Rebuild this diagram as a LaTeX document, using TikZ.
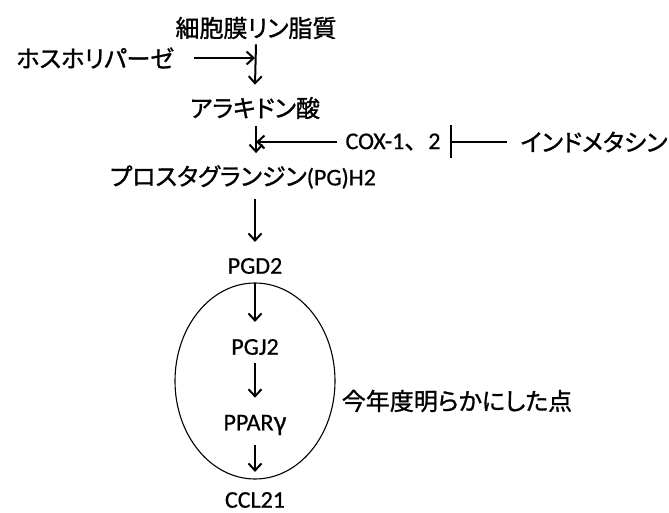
\documentclass[tikz,border=0pt]{standalone}
\usepackage{fontspec}
\setmainfont[FakeBold=0.6]{Carlito}
\newfontfamily\jp[RawFeature=+palt,FakeBold=1.2]{Noto Sans CJK JP}
\newfontfamily\jpf[FakeBold=1.2]{Noto Sans CJK JP}
\usetikzlibrary{arrows.meta}
\tikzset{
  lbl/.style={inner sep=0pt, font=\fontsize{24}{28}\selectfont},
  arr/.style={line width=2pt, -{Straight Barb[length=7pt,width=13pt,line width=2pt]}},
  plain/.style={line width=2pt},
}
\begin{document}
\begin{tikzpicture}[x=1pt,y=-1pt]
\useasboundingbox (0,0) rectangle (669,513);
\node[lbl] (mem)  at (256,28)  {\jp 細胞膜リン脂質};
\node[lbl] (hosu) at (95,58)   {\jp ホスホリパーゼ};
\node[lbl] (ara)  at (255,108) {\jp アラキドン酸};
\node[lbl] (cox)  at (393,142) {COX-1{\jpf 、}2};
\node[lbl] (indo) at (594,142) {\jp インドメタシン};
\node[lbl] (pgh)  at (243,177) {{\jp プロスタグランジン}(PG)H2};
\node[lbl] (pgd)  at (255,266) {PGD2};
\node[lbl] (pgj)  at (255,347) {PGJ2};
\node[lbl] (ppar) at (255,425) {PPAR{\jp γ}};
\node[lbl] (ccl)  at (255,500) {CCL21};
\node[lbl] (note) at (457,401) {\jp 今年度明らかにした点};
\draw[line width=1.1pt] (255,381) ellipse [x radius=80, y radius=98];
% main chain
\draw[arr] ([yshift=-5pt]mem.south) -- ([yshift=12pt]ara.north);
\draw[arr] ([yshift=-7pt]ara.south -| mem) -- ([yshift=12pt]pgh.north -| mem);
\draw[arr] ([yshift=-10pt]pgh.south -| pgd) -- ([yshift=16pt]pgd.north);
\draw[arr] ([yshift=-9pt]pgd.south) -- ([yshift=17pt]pgj.north);
\draw[arr] ([yshift=-8pt]pgj.south) -- ([yshift=17pt]ppar.north);
\draw[arr] ([yshift=-10pt]ppar.south) -- ([yshift=20pt]ccl.north);
% side arrows
\draw[arr] ([xshift=20pt]hosu.east) -- ([xshift=-1pt]hosu.east -| mem);
\draw[arr] ([xshift=-8pt]cox.west) -- (cox.west -| mem);
\draw[plain, {Bar[width=33pt,line width=2pt]}-] ([xshift=-70pt]indo.west) -- ([xshift=-13pt]indo.west);
\end{tikzpicture}
\end{document}
